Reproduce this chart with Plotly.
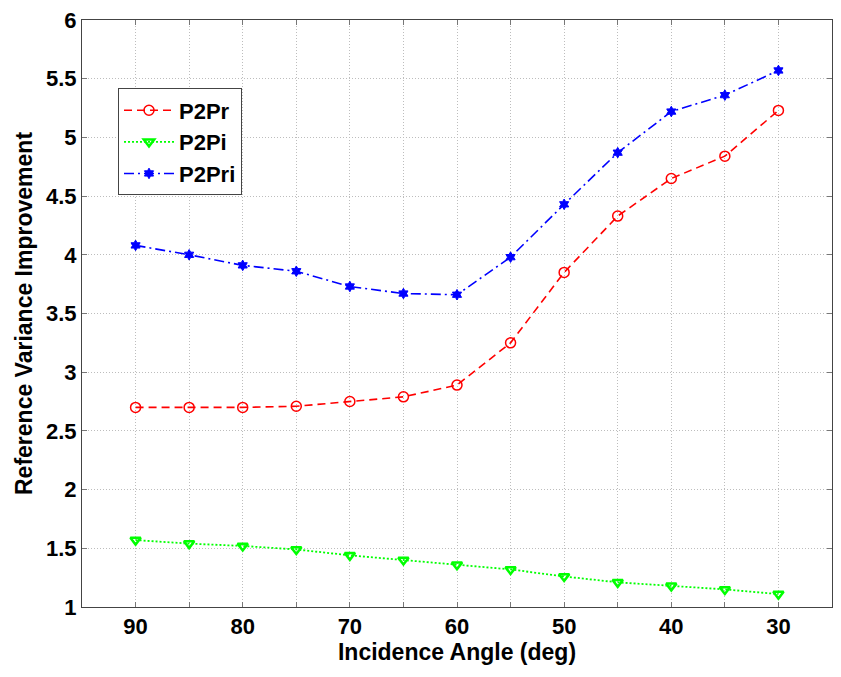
import plotly.graph_objects as go

angles = [90, 85, 80, 75, 70, 65, 60, 55, 50, 45, 40, 35, 30]
p2pr = [2.70, 2.70, 2.70, 2.71, 2.75, 2.79, 2.89, 3.25, 3.85, 4.33, 4.65, 4.84, 5.23]
p2pi = [1.57, 1.54, 1.52, 1.49, 1.44, 1.40, 1.36, 1.32, 1.26, 1.21, 1.18, 1.15, 1.11]
p2pri = [4.08, 4.00, 3.91, 3.86, 3.73, 3.67, 3.66, 3.98, 4.43, 4.87, 5.22, 5.36, 5.57]

x_ticks = [90, 85, 80, 75, 70, 65, 60, 55, 50, 45, 40, 35, 30]
x_ticktext = ["90", "", "80", "", "70", "", "60", "", "50", "", "40", "", "30"]
y_ticks = [1, 1.5, 2, 2.5, 3, 3.5, 4, 4.5, 5, 5.5, 6]
y_ticktext = ["1", "1.5", "2", "2.5", "3", "3.5", "4", "4.5", "5", "5.5", "6"]

FONT = "Liberation Sans, Arial, sans-serif"

fig = go.Figure()
fig.add_trace(go.Scatter(
    x=angles, y=p2pr, name="P2Pr", mode="lines+markers",
    line=dict(color="#ff0000", width=1.6, dash="8px,5px"),
    marker=dict(symbol="circle-open", size=10, color="#ff0000", line=dict(width=1.5)),
))
fig.add_trace(go.Scatter(
    x=angles, y=p2pi, name="P2Pi", mode="lines+markers",
    line=dict(color="#00ff00", width=1.8, dash="2px,2px"),
    marker=dict(symbol="triangle-down-open", size=9, color="#00ff00", line=dict(width=2.5)),
))
fig.add_trace(go.Scatter(
    x=angles, y=p2pri, name="P2Pri", mode="lines+markers",
    line=dict(color="#0000ff", width=1.6, dash="10px,4px,2px,4px"),
    marker=dict(symbol="hexagram", size=8, color="#0000ff", line=dict(width=1, color="#0000ff")),
))

axis_common = dict(
    showline=True, linecolor="#444444", linewidth=1, mirror="ticks",
    ticks="inside", ticklen=5, tickcolor="#777777",
    showgrid=True, gridcolor="#bdbdbd", griddash="1px,2px", gridwidth=1,
    zeroline=False,
    tickfont=dict(family=FONT, size=22, color="black", weight="bold"),
)

fig.update_xaxes(
    range=[95, 25], tickmode="array", tickvals=x_ticks, ticktext=x_ticktext,
    title=dict(text="Incidence Angle (deg)", standoff=2,
               font=dict(family=FONT, size=23, color="black", weight="bold")),
    **axis_common,
)
fig.update_yaxes(
    range=[1, 6], tickmode="array", tickvals=y_ticks, ticktext=y_ticktext,
    title=dict(text="Reference Variance Improvement", standoff=6,
               font=dict(family=FONT, size=23, color="black", weight="bold")),
    **axis_common,
)

fig.update_layout(
    width=841, height=677,
    margin=dict(l=82, r=8, t=15, b=70),
    paper_bgcolor="white", plot_bgcolor="white",
    showlegend=True,
    legend=dict(
        x=0.048, y=0.8834, xanchor="left", yanchor="top",
        bgcolor="white", bordercolor="#444444", borderwidth=1,
        font=dict(family=FONT, size=22, color="black", weight="bold"),
        tracegroupgap=0, itemwidth=50,
    ),
)

fig.write_html("out.html")
